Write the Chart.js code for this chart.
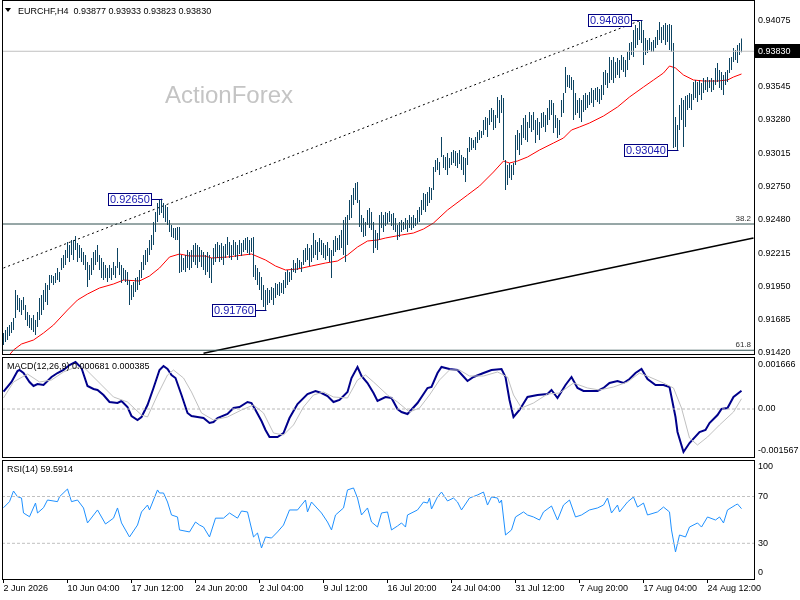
<!DOCTYPE html>
<html><head><meta charset="utf-8">
<script src="https://cdn.jsdelivr.net/npm/chart.js@4.4.1/dist/chart.umd.min.js"></script>
<style>
html,body{margin:0;padding:0;background:#fff;}
#wrap{position:relative;width:800px;height:600px;overflow:hidden;background:#fff;}
#wrap canvas{position:absolute;left:0;top:0;}
</style></head><body>
<div id="wrap">
<canvas id="cPrice" width="800" height="600"></canvas>
<canvas id="cMacd" width="800" height="600"></canvas>
<canvas id="cRsi" width="800" height="600"></canvas>
</div>
<script>
// ---------- DATA ----------
const symbol = 'EURCHF,H4';
const lastOHLC = [0.93877, 0.93933, 0.93823, 0.93830];
const watermark = 'ActionForex';
const xTickIdx = [0,32,64,96,128,160,192,224,256,288,320,352];
const xTickLabels = ['2 Jun 2026','10 Jun 04:00','17 Jun 12:00','24 Jun 20:00','2 Jul 04:00','9 Jul 12:00','16 Jul 20:00','24 Jul 04:00','31 Jul 12:00','7 Aug 20:00','17 Aug 04:00','24 Aug 12:00'];
const priceTicks = [0.94075,0.93545,0.93280,0.93015,0.92750,0.92480,0.92215,0.91950,0.91685,0.91420];
const macdTickVals = [0.001666, 0, -0.001567];
const macdTickLabels = ['0.001666','0.00','-0.001567'];
const rsiTickVals = [95.5, 70, 30, 5.2];
const rsiTickLabels = ['100','70','30','0'];

const highs = [
0.91576,0.91600,0.91624,0.91640,0.91664,0.91696,0.91920,0.91880,0.91856,0.91840,
0.91864,0.91800,0.91744,0.91720,0.91696,0.91720,0.91680,0.91744,0.91856,0.91880,
0.91920,0.91976,0.91960,0.92040,0.92040,0.92032,0.92056,0.92096,0.92064,0.92176,
0.92200,0.92240,0.92304,0.92280,0.92320,0.92320,0.92352,0.92296,0.92280,0.92256,
0.92224,0.92200,0.92144,0.92120,0.92176,0.92224,0.92240,0.92280,0.92200,0.92176,
0.92144,0.92120,0.92096,0.92120,0.92096,0.92144,0.92112,0.92256,0.92144,0.92120,
0.92096,0.92080,0.92064,0.92000,0.91960,0.91984,0.92016,0.92024,0.92080,0.92144,
0.92200,0.92240,0.92256,0.92320,0.92360,0.92464,0.92544,0.92616,0.92640,0.92650,
0.92616,0.92600,0.92584,0.92480,0.92440,0.92416,0.92416,0.92424,0.92424,0.92200,
0.92176,0.92200,0.92240,0.92224,0.92240,0.92280,0.92296,0.92280,0.92264,0.92240,
0.92224,0.92200,0.92224,0.92200,0.92176,0.92256,0.92288,0.92304,0.92280,0.92296,
0.92272,0.92288,0.92344,0.92304,0.92280,0.92320,0.92304,0.92280,0.92320,0.92296,
0.92320,0.92336,0.92344,0.92320,0.92336,0.92344,0.92120,0.92096,0.92064,0.92024,
0.91960,0.91920,0.91936,0.91920,0.91944,0.91936,0.91976,0.91968,0.91984,0.91976,
0.92000,0.92064,0.92080,0.92064,0.92096,0.92160,0.92136,0.92176,0.92160,0.92144,
0.92240,0.92256,0.92288,0.92256,0.92280,0.92376,0.92320,0.92304,0.92336,0.92320,
0.92296,0.92280,0.92304,0.92256,0.92240,0.92320,0.92352,0.92336,0.92360,0.92400,
0.92480,0.92504,0.92520,0.92640,0.92680,0.92736,0.92776,0.92784,0.92640,0.92520,
0.92496,0.92464,0.92560,0.92576,0.92544,0.92464,0.92400,0.92376,0.92520,0.92544,
0.92520,0.92544,0.92536,0.92552,0.92528,0.92536,0.92496,0.92440,0.92464,0.92480,
0.92464,0.92496,0.92480,0.92520,0.92504,0.92520,0.92496,0.92560,0.92584,0.92640,
0.92696,0.92688,0.92704,0.92744,0.92736,0.92904,0.92960,0.92976,0.92944,0.93144,
0.93000,0.92984,0.93016,0.92976,0.93024,0.93040,0.93032,0.93016,0.93040,0.93000,
0.92984,0.92976,0.93056,0.93144,0.93136,0.93120,0.93144,0.93184,0.93200,0.93192,
0.93280,0.93304,0.93296,0.93360,0.93376,0.93360,0.93320,0.93464,0.93440,0.93480,
0.93456,0.92960,0.92920,0.92936,0.92920,0.92936,0.93160,0.93200,0.93176,0.93240,
0.93296,0.93320,0.93264,0.93344,0.93320,0.93344,0.93280,0.93296,0.93264,0.93336,
0.93344,0.93320,0.93376,0.93440,0.93440,0.93416,0.93320,0.93296,0.93280,0.93440,
0.93496,0.93704,0.93640,0.93640,0.93624,0.93600,0.93496,0.93440,0.93456,0.93440,
0.93480,0.93496,0.93480,0.93504,0.93536,0.93520,0.93536,0.93544,0.93528,0.93560,
0.93664,0.93680,0.93656,0.93784,0.93760,0.93784,0.93744,0.93776,0.93760,0.93800,
0.93784,0.93760,0.93824,0.93896,0.93904,0.94000,0.94040,0.94016,0.94064,0.94080,
0.94000,0.93936,0.93920,0.93936,0.93904,0.93920,0.93944,0.94000,0.94064,0.94024,
0.94040,0.94056,0.94040,0.94048,0.94040,0.93896,0.93304,0.93240,0.93400,0.93456,
0.93440,0.93472,0.93480,0.93496,0.93488,0.93584,0.93600,0.93584,0.93600,0.93576,
0.93616,0.93600,0.93624,0.93600,0.93616,0.93600,0.93696,0.93736,0.93680,0.93664,
0.93640,0.93664,0.93680,0.93776,0.93784,0.93856,0.93840,0.93880,0.93896,0.93933];

const lows = [
0.91480,0.91504,0.91520,0.91552,0.91576,0.91600,0.91696,0.91760,0.91744,0.91720,
0.91760,0.91680,0.91632,0.91616,0.91600,0.91584,0.91560,0.91624,0.91680,0.91720,
0.91760,0.91824,0.91800,0.91920,0.91976,0.91960,0.91976,0.92000,0.91984,0.92080,
0.92096,0.92120,0.92176,0.92144,0.92200,0.92160,0.92240,0.92144,0.92176,0.92144,
0.92120,0.92080,0.91944,0.92000,0.92040,0.92080,0.92120,0.92144,0.92080,0.92016,
0.92000,0.92016,0.91984,0.92016,0.92000,0.92040,0.92016,0.92096,0.92040,0.91976,
0.92000,0.91984,0.91960,0.91800,0.91840,0.91864,0.91904,0.91920,0.91960,0.92016,
0.92080,0.92120,0.92144,0.92200,0.92240,0.92280,0.92384,0.92464,0.92520,0.92536,
0.92496,0.92464,0.92440,0.92384,0.92344,0.92336,0.92320,0.92320,0.92056,0.92064,
0.92080,0.92064,0.92096,0.92080,0.92096,0.92144,0.92120,0.92096,0.92144,0.92104,
0.92080,0.92040,0.92064,0.92016,0.91976,0.92120,0.92144,0.92176,0.92144,0.92160,
0.92120,0.92176,0.92200,0.92176,0.92160,0.92200,0.92184,0.92160,0.92208,0.92192,
0.92224,0.92240,0.92216,0.92200,0.92224,0.92024,0.92000,0.91960,0.91920,0.91840,
0.91784,0.91760,0.91800,0.91816,0.91840,0.91800,0.91856,0.91880,0.91872,0.91896,
0.91888,0.91936,0.91960,0.91984,0.92000,0.92064,0.92056,0.92080,0.92096,0.92064,
0.92120,0.92144,0.92160,0.92112,0.92144,0.92176,0.92200,0.92160,0.92224,0.92200,
0.92176,0.92160,0.92192,0.92144,0.92016,0.92192,0.92224,0.92240,0.92240,0.92256,
0.92200,0.92144,0.92280,0.92480,0.92496,0.92600,0.92640,0.92616,0.92424,0.92384,
0.92344,0.92352,0.92440,0.92416,0.92400,0.92216,0.92256,0.92240,0.92320,0.92416,
0.92384,0.92432,0.92448,0.92464,0.92432,0.92400,0.92384,0.92320,0.92344,0.92384,
0.92400,0.92408,0.92384,0.92416,0.92400,0.92416,0.92432,0.92448,0.92464,0.92520,
0.92560,0.92544,0.92592,0.92616,0.92640,0.92720,0.92864,0.92880,0.92840,0.92984,
0.92896,0.92880,0.92840,0.92896,0.92920,0.92936,0.92912,0.92896,0.92928,0.92880,
0.92840,0.92784,0.92920,0.93024,0.93040,0.93056,0.93040,0.93096,0.93120,0.93136,
0.93160,0.93200,0.93144,0.93240,0.93264,0.93200,0.93216,0.93296,0.93256,0.93336,
0.92960,0.92720,0.92760,0.92816,0.92800,0.92840,0.92920,0.93040,0.93000,0.93080,
0.93136,0.93120,0.93104,0.93216,0.93184,0.93200,0.93096,0.93160,0.93120,0.93216,
0.93224,0.93184,0.93240,0.93280,0.93320,0.93176,0.93216,0.93136,0.93160,0.93304,
0.93336,0.93496,0.93544,0.93536,0.93520,0.93280,0.93320,0.93336,0.93296,0.93264,
0.93344,0.93360,0.93376,0.93400,0.93416,0.93384,0.93440,0.93424,0.93408,0.93440,
0.93480,0.93560,0.93536,0.93576,0.93600,0.93576,0.93616,0.93640,0.93616,0.93680,
0.93664,0.93624,0.93680,0.93760,0.93800,0.93784,0.93856,0.93880,0.93920,0.93896,
0.93720,0.93800,0.93816,0.93840,0.93824,0.93824,0.93856,0.93880,0.93920,0.93896,
0.93920,0.93880,0.93904,0.93840,0.93824,0.93056,0.93064,0.93040,0.93200,0.93280,
0.93064,0.93224,0.93360,0.93376,0.93360,0.93440,0.93456,0.93424,0.93480,0.93440,
0.93496,0.93520,0.93504,0.93536,0.93504,0.93520,0.93560,0.93584,0.93536,0.93520,
0.93480,0.93560,0.93584,0.93656,0.93680,0.93744,0.93760,0.93736,0.93800,0.93823];

const maIdx = [0,5,9,15,20,25,32,37,42,48,55,60,68,73,78,83,88,93,101,104,112,124,131,136,141,147,154,161,167,172,177,182,187,191,199,205,210,215,222,232,238,245,250,253,257,262,268,275,280,284,288,293,300,307,313,320,325,330,333,336,340,345,350,357,362,365,369];
const maVals = [0.91344,0.91440,0.91488,0.91520,0.91576,0.91640,0.91760,0.91840,0.91888,0.91936,0.91968,0.92000,0.91992,0.92032,0.92096,0.92184,0.92208,0.92192,0.92192,0.92176,0.92184,0.92208,0.92160,0.92112,0.92080,0.92088,0.92112,0.92136,0.92152,0.92200,0.92264,0.92312,0.92320,0.92336,0.92360,0.92376,0.92408,0.92456,0.92560,0.92680,0.92752,0.92864,0.92952,0.92936,0.92952,0.92984,0.93040,0.93096,0.93136,0.93200,0.93224,0.93256,0.93312,0.93384,0.93464,0.93544,0.93600,0.93656,0.93712,0.93696,0.93640,0.93600,0.93592,0.93592,0.93600,0.93624,0.93648];

const macdIdx = [0,4,7,8,10,13,15,17,20,24,27,30,33,36,39,42,45,47,50,53,57,59,62,64,67,69,72,75,78,80,82,84,86,89,92,94,97,100,103,105,107,112,115,118,122,124,126,129,131,133,137,140,143,147,152,156,159,162,165,168,172,174,177,179,182,185,187,191,194,197,199,202,207,212,214,217,219,223,227,232,235,240,244,249,251,253,255,258,262,267,272,274,277,281,284,287,290,297,300,303,307,310,313,316,319,322,326,330,333,336,337,340,343,348,351,353,357,359,362,365,369];
const macdVals = [0.000647,0.001010,0.001421,0.001459,0.001346,0.001010,0.000860,0.000935,0.000898,0.001197,
0.001346,0.001459,0.001646,0.001758,0.001533,0.000860,0.000748,0.000711,0.000524,0.000262,
0.000224,0.000299,0.000075,-0.000262,-0.000411,-0.000299,0.000150,0.000785,0.001459,0.001608,
0.001496,0.001272,0.001159,0.000524,-0.000150,-0.000262,-0.000299,-0.000337,-0.000524,-0.000486,
-0.000337,-0.000187,0.000037,0.000075,0.000262,0.000224,-0.000037,-0.000449,-0.000785,-0.001047,
-0.001047,-0.000898,-0.000337,0.000187,0.000561,0.000673,0.000598,0.000486,0.000262,0.000337,
0.000636,0.001159,0.001571,0.001234,0.000972,0.000598,0.000299,0.000449,0.000411,0.000000,
-0.000112,-0.000187,0.000224,0.000785,0.000823,0.001346,0.001571,0.001496,0.001459,0.001047,
0.001197,0.001346,0.001459,0.001496,0.001197,0.000337,-0.000299,-0.000037,0.000449,0.000524,
0.000561,0.000711,0.000411,0.000898,0.001197,0.000785,0.000673,0.000673,0.000785,0.000972,
0.001047,0.000972,0.001122,0.001346,0.001496,0.001122,0.000898,0.000898,0.000823,-0.000299,
-0.000860,-0.001608,-0.001272,-0.000860,-0.000785,-0.000524,-0.000224,0.000000,0.000037,0.000449,
0.000681];

const sigIdx = [0,5,12,18,24,30,35,40,44,49,55,62,69,72,77,82,85,90,94,99,105,112,119,125,130,135,140,145,150,155,160,165,172,177,181,185,192,197,203,208,213,218,223,228,233,240,247,252,255,259,265,272,278,285,292,298,305,312,318,323,330,335,339,343,347,352,358,365,369];
const sigVals = [0.000411,0.001010,0.001309,0.001010,0.001085,0.001384,0.001533,0.001571,0.001272,0.000898,
0.000449,0.000262,-0.000224,-0.000299,0.000524,0.001272,0.001459,0.001159,0.000636,-0.000150,
-0.000411,-0.000299,-0.000037,0.000150,-0.000150,-0.000898,-0.000972,-0.000598,0.000075,0.000524,
0.000636,0.000449,0.000411,0.001085,0.001272,0.001010,0.000524,0.000262,-0.000112,0.000037,
0.000524,0.001085,0.001459,0.001459,0.001234,0.001234,0.001384,0.001197,0.000524,0.000037,
0.000224,0.000561,0.000598,0.000972,0.000785,0.000711,0.000823,0.001010,0.001346,0.001197,
0.000972,0.000785,0.000037,-0.001085,-0.001346,-0.001047,-0.000598,-0.000112,0.000385];

const rsiIdx = [0,3,5,7,9,10,13,16,17,20,22,27,28,32,34,37,40,42,47,51,55,57,59,63,67,69,72,73,77,78,80,82,84,87,88,93,96,98,100,103,106,110,113,117,119,122,125,127,129,131,134,137,140,143,147,151,152,154,159,162,164,166,170,172,175,177,179,182,184,187,189,192,194,197,199,201,202,207,210,212,213,214,217,219,222,225,227,229,233,237,240,242,244,247,248,249,251,254,256,260,262,265,268,270,274,277,280,283,286,289,293,297,300,302,304,307,308,312,315,317,320,322,327,330,333,334,336,338,341,343,347,349,352,356,358,360,362,366,367,369];
const rsiVals = [60.4,65.6,74.7,69.8,68.7,55.9,52.7,64.4,55.9,60.4,
67.0,65.6,69.8,76.4,65.6,67.0,60.2,47.4,58.5,46.5,
51.5,60.2,47.4,35.4,45.6,56.8,62.7,58.5,75.6,73.0,
73.0,65.3,54.2,52.5,41.4,39.7,48.2,45.6,43.9,35.4,
51.5,51.5,55.9,51.5,57.6,56.8,35.4,38.8,26.0,35.4,
34.5,39.7,45.6,58.5,58.5,67.0,56.8,65.3,55.9,48.2,
41.4,54.2,60.2,75.6,77.3,68.7,54.2,60.2,48.2,43.9,
55.9,56.8,41.4,44.8,47.4,43.9,54.2,58.5,65.3,64.4,
68.7,59.3,69.6,73.8,66.2,68.7,65.3,58.5,68.7,71.3,
73.8,62.7,69.6,68.7,64.4,67.0,37.1,41.4,52.5,56.8,
54.2,52.5,49.9,56.8,61.9,49.9,62.7,67.0,52.5,54.2,
58.5,60.2,62.7,68.7,55.9,62.7,56.8,65.3,69.6,61.0,
64.4,54.2,56.8,61.0,56.8,41.4,22.6,37.1,35.4,43.9,
47.4,43.9,52.5,49.9,52.5,47.4,58.5,62.7,63.6,59.5914];

const pivotIdx = [79, 131, 319, 337];
const pivotVals = [0.92650, 0.91760, 0.94080, 0.93040];
const upperLineIdx = [0, 319];
const upperLineVals = [0.92096, 0.94080];
const lowerLineIdx = [100, 375];
const lowerLineVals = [0.91414, 0.92336];
const fibVals = [0.92448, 0.91438];
const fibLabels = ['38.2', '61.8'];
const rsiLevels = [70, 30];

// ---------- HELPERS ----------
Chart.defaults.font.family = '"Liberation Sans", Arial, sans-serif';
Chart.defaults.font.size = 9;
Chart.defaults.color = '#000';
const X_MIN = -0.75, X_MAX = 375.25;
const BAR_COLOR = '#0d4462';

function pts(idx, vals){ return idx.map((x,k)=>({x:x, y:vals[k]})); }
function lineDS(data, color, width, dash){
  return {type:'line', data:data, borderColor:color, borderWidth:width, borderDash:dash||[],
          pointRadius:0, tension:0, fill:false, clip:0, spanGaps:true};
}
function hLine(v, color, width, dash){
  return lineDS([{x:X_MIN,y:v},{x:X_MAX,y:v}], color, width, dash);
}
function xScaleCfg(show){
  return {type:'linear', min:X_MIN, max:X_MAX, offset:false, display:show,
    grid:{display:show, drawOnChartArea:false, drawTicks:true, tickLength:3, color:'#000', offset:false},
    border:{display:false},
    afterBuildTicks: s => { s.ticks = xTickIdx.map(v=>({value:v})); },
    afterFit: s => { s.height = show ? 20 : 0; s.paddingLeft = 0; s.paddingRight = 0; },
    ticks:{autoSkip:false, maxRotation:0, minRotation:0, align:'start', padding:0,
      color:'#000', font:{size:9}, callback:(v,i)=>xTickLabels[i]}
  };
}
function yScaleCfg(min, max, tickVals, labelFn){
  return {position:'right', min:min, max:max, beginAtZero:false,
    grid:{display:false, drawTicks:false}, border:{display:false},
    afterBuildTicks: s => { s.ticks = tickVals.map(v=>({value:v})); },
    afterFit: s => { s.width = 46; s.paddingTop = 0; s.paddingBottom = 0; },
    ticks:{padding:4, color:'#000', font:{size:9}, autoSkip:false, callback:labelFn}
  };
}
function baseOpts(padTop, padBottom){
  return {responsive:false, maintainAspectRatio:false, animation:false, devicePixelRatio:1, events:[],
    layout:{padding:{left:2, right:0, top:padTop, bottom:padBottom}},
    plugins:{legend:{display:false}, tooltip:{enabled:false}}};
}
function frame(chart){
  const {ctx, chartArea:a} = chart;
  ctx.save();
  ctx.strokeStyle = '#000'; ctx.lineWidth = 1;
  ctx.strokeRect(a.left+0.5, a.top+0.5, a.right-a.left, a.bottom-a.top-1);
  ctx.restore();
}

// ---------- PRICE CHART ----------
const barData = highs.map((h,i)=>({x:i, y:[lows[i], h]}));
const pricePlugin = {
  id:'priceDeco',
  beforeDatasetsDraw(chart){
    const ctx = chart.ctx;
    ctx.save();
    ctx.fillStyle = '#c4c4c4';
    ctx.font = '24px "Liberation Sans", Arial, sans-serif';
    ctx.textBaseline = 'alphabetic';
    ctx.fillText(watermark, 165, 103);
    ctx.restore();
  },
  afterDatasetsDraw(chart){
    const ctx = chart.ctx, xs = chart.scales.x, ys = chart.scales.y, a = chart.chartArea;
    ctx.save();
    ctx.font = '8px "Liberation Sans", Arial, sans-serif';
    ctx.fillStyle = '#333';
    ctx.textAlign = 'right'; ctx.textBaseline = 'alphabetic';
    fibVals.forEach((v,k)=>{ const y = ys.getPixelForValue(v); ctx.fillText(fibLabels[k], a.right-3, Math.round(y)-3); });
    ctx.font = '11px "Liberation Sans", Arial, sans-serif';
    ctx.textAlign = 'left'; ctx.textBaseline = 'middle';
    pivotIdx.forEach((i,k)=>{
      const v = pivotVals[k];
      const x = Math.round(xs.getPixelForValue(i));
      const y = Math.round(ys.getPixelForValue(v));
      const txt = v.toFixed(5);
      const tw = Math.ceil(ctx.measureText(txt).width);
      const r = x - 10, l = r - tw - 4;
      ctx.strokeStyle = '#000080'; ctx.lineWidth = 1;
      ctx.beginPath(); ctx.moveTo(r, y+0.5); ctx.lineTo(x+0.5, y+0.5); ctx.stroke();
      ctx.fillStyle = '#fff';
      ctx.fillRect(l, y-6, tw+4, 13);
      ctx.strokeRect(l+0.5, y-5.5, tw+3, 12);
      ctx.fillStyle = '#1818b0';
      ctx.fillText(txt, l+2, y+1);
    });
    ctx.restore();
  },
  afterDraw(chart){
    frame(chart);
    const ctx = chart.ctx, ys = chart.scales.y, a = chart.chartArea;
    ctx.save();
    ctx.fillStyle = '#000';
    ctx.beginPath(); ctx.moveTo(5,8); ctx.lineTo(11,8); ctx.lineTo(8,12); ctx.closePath(); ctx.fill();
    ctx.font = '9px "Liberation Sans", Arial, sans-serif';
    ctx.textBaseline = 'alphabetic'; ctx.textAlign = 'left';
    ctx.fillText(symbol + '  ' + lastOHLC.map(v=>v.toFixed(5)).join(' '), 18, 14);
    const yc = Math.round(ys.getPixelForValue(lastOHLC[3]));
    ctx.fillStyle = '#000';
    ctx.fillRect(a.right, yc-7, 800-a.right, 14);
    ctx.fillStyle = '#fff';
    ctx.textBaseline = 'middle';
    ctx.fillText(lastOHLC[3].toFixed(5), a.right+4, yc+0.5);
    ctx.restore();
  }
};

new Chart(document.getElementById('cPrice'), {
  type:'bar',
  data:{datasets:[
    hLine(fibVals[0], '#2f4f4f', 1),
    hLine(fibVals[1], '#2f4f4f', 1),
    hLine(lastOHLC[3], '#c0c0c0', 1),
    {type:'bar', data:barData, backgroundColor:BAR_COLOR, borderWidth:0, barThickness:1,
     barPercentage:1, categoryPercentage:1, inflateAmount:0},
    lineDS(pts(maIdx, maVals), '#ff0000', 1),
    lineDS(pts(upperLineIdx, upperLineVals), '#000', 1, [2,3]),
    lineDS(pts(lowerLineIdx, lowerLineVals), '#000', 1.6)
  ]},
  options:Object.assign(baseOpts(0, 245), {
    scales:{ x:xScaleCfg(false), y:yScaleCfg(0.9140, 0.9424, priceTicks, v=>Number(v).toFixed(5)) }
  }),
  plugins:[pricePlugin]
});

// ---------- MACD CHART ----------
const macdPlugin = {
  id:'macdDeco',
  afterDraw(chart){
    frame(chart);
    const ctx = chart.ctx;
    ctx.save();
    ctx.fillStyle = '#000';
    ctx.font = '9px "Liberation Sans", Arial, sans-serif';
    ctx.textBaseline = 'alphabetic';
    ctx.fillText('MACD(12,26,9) ' + macdVals[macdVals.length-1].toFixed(6) + ' ' + sigVals[sigVals.length-1].toFixed(6), 7, 369);
    ctx.restore();
  }
};
new Chart(document.getElementById('cMacd'), {
  type:'line',
  data:{datasets:[
    hLine(0, '#b8b8b8', 1, [3,2]),
    lineDS(pts(sigIdx, sigVals), '#c0c0c0', 1),
    lineDS(pts(macdIdx, macdVals), '#00008b', 2)
  ]},
  options:Object.assign(baseOpts(357, 142), {
    scales:{ x:xScaleCfg(false), y:yScaleCfg(-0.0018326, 0.0019448, macdTickVals, (v,i)=>macdTickLabels[i]) }
  }),
  plugins:[macdPlugin]
});

// ---------- RSI CHART ----------
const rsiPlugin = {
  id:'rsiDeco',
  afterDraw(chart){
    frame(chart);
    const ctx = chart.ctx;
    ctx.save();
    ctx.fillStyle = '#000';
    ctx.font = '9px "Liberation Sans", Arial, sans-serif';
    ctx.textBaseline = 'alphabetic';
    ctx.fillText('RSI(14) ' + rsiVals[rsiVals.length-1].toFixed(4), 7, 472);
    ctx.restore();
  }
};
new Chart(document.getElementById('cRsi'), {
  type:'line',
  data:{datasets:[
    hLine(rsiLevels[0], '#c0c0c0', 1, [3,2]),
    hLine(rsiLevels[1], '#c0c0c0', 1, [3,2]),
    lineDS(pts(rsiIdx, rsiVals), '#1e90ff', 1)
  ]},
  options:Object.assign(baseOpts(460, 0), {
    scales:{ x:xScaleCfg(true), y:yScaleCfg(-1.37, 101.2, rsiTickVals, (v,i)=>rsiTickLabels[i]) }
  }),
  plugins:[rsiPlugin]
});
</script>
</body></html>
